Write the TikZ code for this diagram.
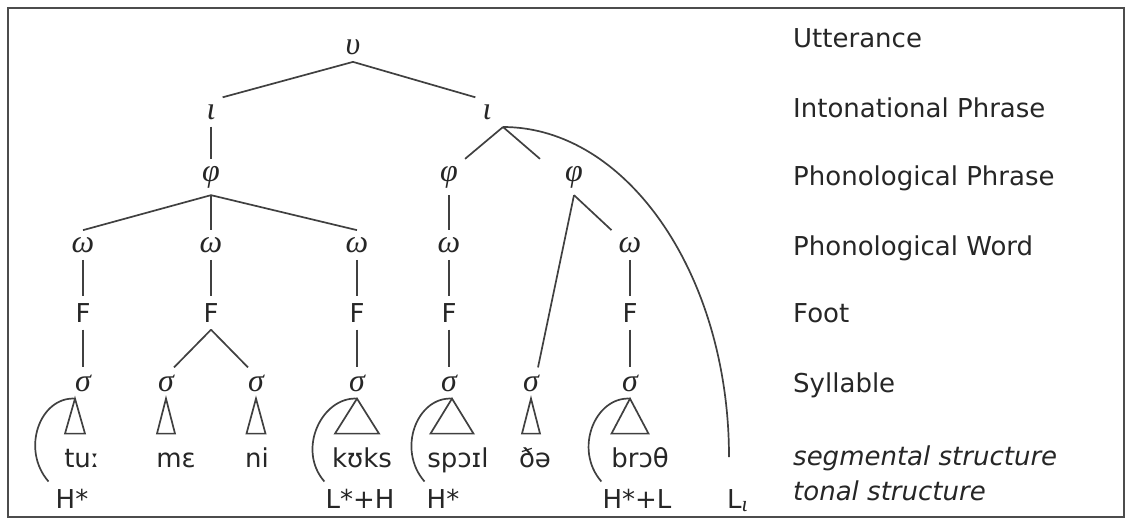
\documentclass[tikz,border=0pt]{standalone}
\usepackage{fontspec}
\setmainfont{DejaVu Sans}
\newfontfamily\greekfont{Liberation Serif}
\newcommand\gr[1]{{\greekfont\itshape\fontsize{32}{38}\selectfont #1}}
\tikzset{
  branch/.style={draw=black!75, line width=1.7pt},
  level/.style={anchor=base west, inner sep=0pt},
}

\begin{document}
\begin{tikzpicture}[x=1pt, y=-1pt, inner sep=7pt, text=black!85,
    font=\fontsize{26}{31}\selectfont]
    \useasboundingbox (0,0) rectangle (1126,520);
    \draw[black!70, line width=1.8pt] (8,8) rectangle (1124,517);

    % prosodic tree
    \path (353,47) node (u) {\gr{υ}};
    \path (211,112) node (iL) {\gr{ι}} (487,112) node (iR) {\gr{ι}};
    \path (211,177) node (pL) {\gr{φ}} (449,177) node (pM) {\gr{φ}} (574,177) node (pR) {\gr{φ}};
    \path (83,245) node (w1) {\gr{ω}} (211,245) node (w2) {\gr{ω}} (357,245) node (w3) {\gr{ω}}
          (449,245) node (w4) {\gr{ω}} (630,245) node (w5) {\gr{ω}};
    \path (83,313) node (f1) {F} (211,313) node (f2) {F} (357,313) node (f3) {F}
          (449,313) node (f4) {F} (630,313) node (f5) {F};
    \path (83,383) node (s1) {\gr{σ}} (166,383) node (s2) {\gr{σ}} (256,383) node (s3) {\gr{σ}}
          (357,383) node (s4) {\gr{σ}} (449,383) node (s5) {\gr{σ}} (531,383) node (s6) {\gr{σ}}
          (630,383) node (s7) {\gr{σ}};

    % segments and tones
    \path[anchor=base] (82,467) node (tu) {tuː} (176,467) node (me) {mɛ} (257,467) node (ni) {ni}
          (362,467) node (kuks) {kʊks} (458,467) node (spoil) {spɔɪl} (535,467) node (dhe) {ðə}
          (640,467) node (broth) {brɔθ};
    \path[anchor=base] (72,508) node (h1) {H*} (360,508) node (lh) {L*+H} (443,508) node (h2) {H*}
          (637,508) node (hl) {H*+L};
    \path (727,508) node[anchor=base west, inner sep=0pt] (li)
          {L\textsubscript{\greekfont\itshape\fontsize{22}{26}\selectfont ι}};

    % level names
    \path (793,47) node[level] (lU) {Utterance}
          (793,117) node[level] (lI) {Intonational Phrase}
          (793,185) node[level] (lP) {Phonological Phrase}
          (793,255) node[level] (lW) {Phonological Word}
          (793,322) node[level] (lF) {Foot}
          (793,392) node[level] (lS) {Syllable}
          (793,465) node[level] (lSeg) {\itshape segmental structure}
          (793,500) node[level] (lT) {\itshape tonal structure};

    \coordinate (iRj) at (503,127);
    \coordinate (Lt) at (729,457);

    \draw[branch] (u.south) -- (iL.north east);
    \draw[branch] (u.south) -- (iR.north west);
    \draw[branch] (iL) -- (pL);
    \draw[branch] (iRj) -- (pM.north east);
    \draw[branch] (iRj) -- ([xshift=-18pt]pR.north west);
    \draw[branch] (pL.south) -- (w1.north);
    \draw[branch] (pL) -- (w2);
    \draw[branch] (pL.south) -- (w3.north);
    \draw[branch] (pM) -- (w4);
    \draw[branch] (pR.south) -- (w5.north west);
    \draw[branch] (pR.south) -- ([xshift=7pt]s6.north);
    \draw[branch] (w1) -- (f1);
    \draw[branch] (w2) -- (f2);
    \draw[branch] (w3) -- (f3);
    \draw[branch] (w4) -- (f4);
    \draw[branch] (w5) -- (f5);
    \draw[branch] (f1) -- (s1);
    \draw[branch] (f2.south) -- ([xshift=8pt]s2.north);
    \draw[branch] (f2.south) -- ([xshift=-8pt]s3.north);
    \draw[branch] (f3) -- (s4);
    \draw[branch] (f4) -- (s5);
    \draw[branch] (f5) -- (s7);

    % syllable contents
    \draw[branch] ([xshift=-8pt]s1.south) -- ++(-10,35) -- ++(20,0) -- cycle;
    \draw[branch] (s2.south) -- ++(-9,35) -- ++(18,0) -- cycle;
    \draw[branch] (s3.south) -- ++(-9.5,35) -- ++(19,0) -- cycle;
    \draw[branch] (s4.south) -- ++(-22,35) -- ++(44,0) -- cycle;
    \draw[branch] ([xshift=3pt]s5.south) -- ++(-21.5,35) -- ++(43,0) -- cycle;
    \draw[branch] (s6.south) -- ++(-9,35) -- ++(18,0) -- cycle;
    \draw[branch] (s7.south) -- ++(-18.5,35) -- ++(37,0) -- cycle;

    % tone association
    \draw[branch] ([xshift=-8pt]s1.south) .. controls +(-35,-2) and +(-28,-32) .. (h1.north west);
    \draw[branch] (s4.south) .. controls +(-35,-2) and +(-28,-32) .. ([xshift=6pt]lh.north west);
    \draw[branch] ([xshift=3pt]s5.south) .. controls +(-35,-2) and +(-28,-32) .. ([xshift=5pt]h2.north west);
    \draw[branch] (s7.south) .. controls +(-35,-2) and +(-28,-32) .. ([xshift=6pt]hl.north west);
    \draw[branch] (iRj) .. controls +(124,0) and +(0,-182) .. (Lt);
\end{tikzpicture}
\end{document}
